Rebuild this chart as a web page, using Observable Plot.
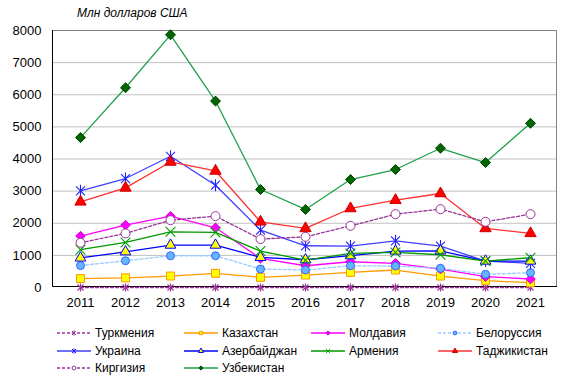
<!DOCTYPE html>
<html>
<head>
<meta charset="utf-8">
<script src="https://cdn.jsdelivr.net/npm/d3@7"></script>
<script src="https://cdn.jsdelivr.net/npm/@observablehq/plot@0.6"></script>
<style>
  body { margin: 0; background: #fff; font-family: "Liberation Sans", Arial, sans-serif; }
  #wrap { position: relative; width: 572px; height: 382px; overflow: hidden; }
  #title { position: absolute; left: 77px; top: 6px; font-size: 12px; font-style: italic; color: #000; white-space: nowrap; }
  #chart { position: absolute; left: 0; top: 24px; }
  #legend { position: absolute; left: 0; top: 0; width: 572px; height: 382px; pointer-events: none; }
  .item { position: absolute; height: 16px; display: flex; align-items: center; font-size: 12px; color: #000; white-space: nowrap; }
  .item svg { margin-right: 4px; }
</style>
</head>
<body>
<div id="wrap">
  <div id="title">Млн долларов США</div>
  <div id="chart"></div>
  <div id="legend"></div>
</div>
<script>
// ---- data ----
const years = [2011, 2012, 2013, 2014, 2015, 2016, 2017, 2018, 2019, 2020, 2021];
const yTicks = [0, 1000, 2000, 3000, 4000, 5000, 6000, 7000, 8000];
const turkmenia  = [0, 0, 0, 0, 0, 0, 0, 0, 0, 0, 0];
const kazakhstan = [279, 300, 357, 441, 317, 388, 472, 544, 357, 211, 149];
const moldova    = [1600, 1942, 2221, 1858, 907, 677, 802, 752, 575, 336, 264];
const belarus    = [682, 833, 988, 988, 575, 544, 677, 668, 596, 410, 460];
const ukraine    = [3008, 3392, 4085, 3184, 1786, 1299, 1290, 1454, 1289, 823, 752];
const azerbaijan = [920, 1112, 1320, 1320, 938, 864, 990, 1134, 1143, 823, 823];
const armenia    = [1178, 1404, 1734, 1715, 1134, 850, 1060, 1093, 1020, 823, 926];
const tajikistan = [2666, 3101, 3908, 3628, 2045, 1839, 2460, 2718, 2926, 1839, 1684];
const kyrgyzstan = [1392, 1684, 2097, 2221, 1507, 1578, 1920, 2283, 2439, 2045, 2283];
const uzbekistan = [4666, 6219, 7866, 5803, 3050, 2429, 3361, 3672, 4334, 3889, 5110];

// custom star marker (vertical + X)
const star = {
  draw(ctx, size) {
    const r = Math.sqrt(size / Math.PI);
    const d = r * 0.75;
    ctx.moveTo(0, -r); ctx.lineTo(0, r);
    ctx.moveTo(-d, -d); ctx.lineTo(d, d);
    ctx.moveTo(-d, d); ctx.lineTo(d, -d);
  }
};

const series = [
  {name: "Туркмения",  values: turkmenia,  line: "#993399", dash: "3,2", symbol: star, r: 4, fill: "none", mstroke: "#993399"},
  {name: "Казахстан",  values: kazakhstan, line: "#ff9900", dash: null, symbol: "square", r: 4.5, fill: "#ffff00", mstroke: "#ff9900"},
  {name: "Молдавия",   values: moldova,    line: "#ff00ff", dash: null, symbol: "diamond2", r: 4.3, fill: "#ff00ff", mstroke: "#cc00cc"},
  {name: "Белоруссия", values: belarus,    line: "#99ccff", dash: "3,2", symbol: "circle", r: 4, fill: "#66b3ff", mstroke: "#3366ff"},
  {name: "Украина",    values: ukraine,    line: "#4040ff", dash: null, symbol: star, r: 6, fill: "none", mstroke: "#2020ff"},
  {name: "Азербайджан",values: azerbaijan, line: "#0000ff", dash: null, symbol: "triangle", r: 4, fill: "#ffff00", mstroke: "#0000ff"},
  {name: "Армения",    values: armenia,    line: "#009900", dash: null, symbol: "times", r: 4.5, fill: "none", mstroke: "#00a000"},
  {name: "Таджикистан",values: tajikistan, line: "#ff3030", dash: null, symbol: "triangle", r: 4.2, fill: "#ff0000", mstroke: "#cc0000"},
  {name: "Киргизия",   values: kyrgyzstan, line: "#993399", dash: "3,2", symbol: "circle", r: 4.5, fill: "#ffffff", mstroke: "#993399"},
  {name: "Узбекистан", values: uzbekistan, line: "#1ea04a", dash: null, symbol: "diamond2", r: 4.5, fill: "#006600", mstroke: "#004400"}
];

const tidy = s => years.map((y, i) => ({year: y, value: s.values[i]}));

const marks = [
  Plot.gridY(yTicks.filter(d => d > 0 && d < 8000), {stroke: "#c0c0c0", strokeOpacity: 1}),
  // frame: top/right gray, left/bottom black
  (index, scales, values, dim) => {
    const g = d3.create("svg:g");
    const l = dim.marginLeft, r = dim.width - dim.marginRight, t = dim.marginTop, b = dim.height - dim.marginBottom;
    g.append("path").attr("d", `M${l},${t + 0.5}H${r - 0.5}V${b}`).attr("fill", "none").attr("stroke", "#808080");
    g.append("path").attr("d", `M${l + 0.5},${t}V${b - 0.5}H${r}`).attr("fill", "none").attr("stroke", "#000");
    return g.node();
  }
];
for (const s of series) {
  const d = tidy(s);
  marks.push(Plot.line(d, {x: "year", y: "value", stroke: s.line, strokeWidth: 1.3, strokeDasharray: s.dash || undefined}));
}
for (const s of series) {
  const d = tidy(s);
  marks.push(Plot.dot(d, {x: "year", y: "value", symbol: s.symbol, r: s.r, fill: s.fill, stroke: s.mstroke, strokeWidth: (s.fill === "none" ? 1.1 : 1)}));
}
marks.push(Plot.axisY({ticks: yTicks, tickSize: 0, tickPadding: 11, fontSize: 13, tickFormat: d => String(d)}));
marks.push(Plot.axisX({tickSize: 0, tickPadding: 10, fontSize: 13, tickFormat: d => String(d)}));

const chart = Plot.plot({
  width: 572,
  height: 287,
  marginLeft: 52,
  marginRight: 15,
  marginTop: 6,
  marginBottom: 24,
  style: {fontFamily: "'Liberation Sans', Arial, sans-serif", color: "#000", background: "#fff"},
  x: {type: "point", domain: years, padding: 0.5, label: null},
  y: {domain: [0, 8000], label: null},
  marks
});
document.getElementById("chart").appendChild(chart);

// ---- legend ----
const legend = document.getElementById("legend");
const colX = [57, 184, 311, 438];
const rowY = [325, 343, 360];
const symMap = {square: d3.symbolSquare, circle: d3.symbolCircle, triangle: d3.symbolTriangle, diamond2: d3.symbolDiamond2, times: d3.symbolTimes};
series.forEach((s, i) => {
  const row = Math.floor(i / 4), col = i % 4;
  const item = document.createElement("div");
  item.className = "item";
  item.style.left = colX[col] + "px";
  item.style.top = rowY[row] + "px";
  const svg = d3.create("svg").attr("width", 34).attr("height", 16);
  svg.append("line").attr("x1", 0).attr("x2", 34).attr("y1", 8).attr("y2", 8)
    .attr("stroke", s.line).attr("stroke-width", 1.3).attr("stroke-dasharray", s.dash);
  const type = typeof s.symbol === "string" ? symMap[s.symbol] : s.symbol;
  const lr = typeof s.symbol === "string" ? 1.9 : 2.6;
  svg.append("path").attr("transform", "translate(17,8)")
    .attr("d", d3.symbol(type, lr * lr * Math.PI)())
    .attr("fill", s.fill).attr("stroke", s.mstroke).attr("stroke-width", 1);
  item.appendChild(svg.node());
  const span = document.createElement("span");
  span.textContent = s.name;
  item.appendChild(span);
  legend.appendChild(item);
});
</script>
</body>
</html>
